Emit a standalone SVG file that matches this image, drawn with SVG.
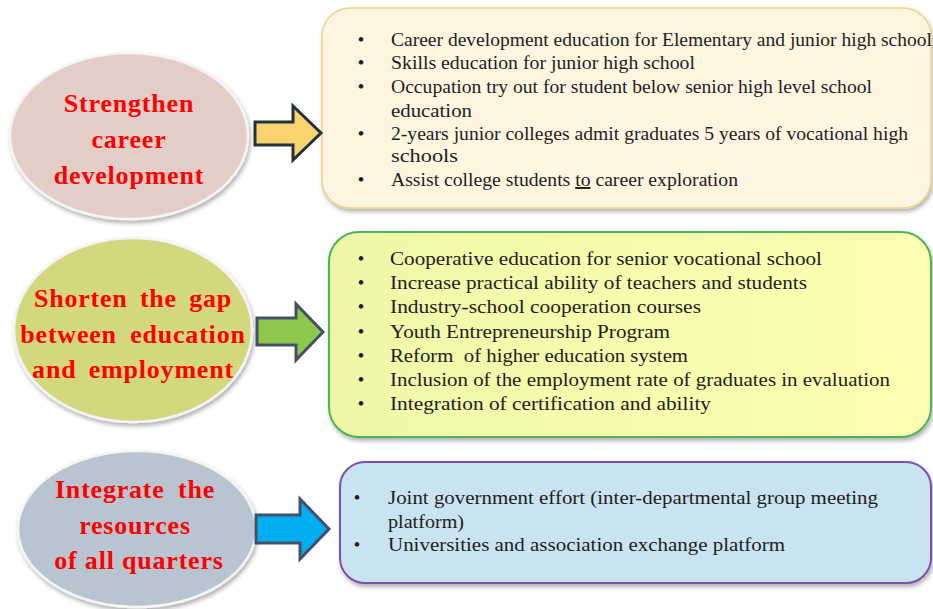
<svg xmlns="http://www.w3.org/2000/svg" width="933" height="609" viewBox="0 0 933 609">
<defs>
<style>
.ell{stroke:#f4f4f4;stroke-width:2.5;filter:url(#sh)}
.etxt{font-family:"Liberation Serif","Times New Roman",serif;font-weight:bold;font-size:26px;fill:#ff0000;text-anchor:middle;letter-spacing:0.8px}
.arrow{stroke-width:3;stroke-linejoin:miter}
.box{filter:url(#sh)}
.btxt{font-family:"Liberation Serif","Times New Roman",serif;font-size:19.5px;fill:#1e1e1e}
.bul{font-family:"Liberation Serif","Times New Roman",serif;font-size:17px;font-weight:bold;fill:#1e1e1e}
</style>
<filter id="sh" x="-10%" y="-10%" width="125%" height="130%">
<feDropShadow dx="1.5" dy="3" stdDeviation="2" flood-color="#000" flood-opacity="0.3"/>
</filter>
<linearGradient id="g2" x1="0" y1="0" x2="1" y2="0">
<stop offset="0" stop-color="#EEF7A8"/>
<stop offset="1" stop-color="#FFFFB2"/>
</linearGradient>
</defs>
<rect width="933" height="609" fill="#ffffff"/>

<g id="node-strengthen">
<ellipse class="ell" cx="129" cy="136" rx="119" ry="83" fill="#E3CEC7"/>
<text class="etxt" x="129" y="112">Strengthen</text>
<text class="etxt" x="129" y="148">career</text>
<text class="etxt" x="129" y="184">development</text>
</g>

<g id="node-shorten">
<ellipse class="ell" cx="133" cy="330" rx="119" ry="92" fill="#D3D77D"/>
<text class="etxt" x="133" y="307" word-spacing="5">Shorten the gap</text>
<text class="etxt" x="133" y="343" word-spacing="6">between education</text>
<text class="etxt" x="133" y="378" word-spacing="5">and employment</text>
</g>

<g id="node-integrate">
<ellipse class="ell" cx="137" cy="529" rx="119" ry="78" fill="#B8C4CF"/>
<text class="etxt" x="135" y="498" word-spacing="6">Integrate the</text>
<text class="etxt" x="135" y="534">resources</text>
<text class="etxt" x="139" y="569">of all quarters</text>
</g>

<g id="box-career">
<rect class="box" x="322" y="8" width="609" height="200" rx="28" fill="#FEF5E1" stroke="#F1D385" stroke-width="1.5"/>
<g class="bul"><text x="358" y="45">•</text><text x="358" y="68">•</text><text x="358" y="92">•</text><text x="358" y="139">•</text><text x="358" y="185">•</text></g>
<text class="btxt" x="391" y="46" textLength="541" lengthAdjust="spacingAndGlyphs">Career development education for Elementary and junior high school</text>
<text class="btxt" x="391" y="69" textLength="304" lengthAdjust="spacingAndGlyphs">Skills education for junior high school</text>
<text class="btxt" x="391" y="93" textLength="481" lengthAdjust="spacingAndGlyphs">Occupation try out for student below senior high level school</text>
<text class="btxt" x="391" y="117" textLength="81" lengthAdjust="spacingAndGlyphs">education</text>
<text class="btxt" x="391" y="140" textLength="517" lengthAdjust="spacingAndGlyphs">2-years junior colleges admit graduates 5 years of vocational high</text>
<text class="btxt" x="391" y="162" textLength="67" lengthAdjust="spacingAndGlyphs">schools</text>
<text class="btxt" x="391" y="186" textLength="347" lengthAdjust="spacingAndGlyphs">Assist college students <tspan text-decoration="underline">to</tspan> career exploration</text>
</g>

<g id="box-gap">
<rect class="box" x="329" y="232" width="602" height="205" rx="30" fill="url(#g2)" stroke="#4DB456" stroke-width="2"/>
<g class="bul"><text x="358" y="264">•</text><text x="358" y="288">•</text><text x="358" y="312">•</text><text x="358" y="337">•</text><text x="358" y="361">•</text><text x="358" y="385">•</text><text x="358" y="409">•</text></g>
<text class="btxt" x="390" y="265" font-size="20" textLength="432" lengthAdjust="spacingAndGlyphs">Cooperative education for senior vocational school</text>
<text class="btxt" x="390" y="289" font-size="20" textLength="417" lengthAdjust="spacingAndGlyphs">Increase practical ability of teachers and students</text>
<text class="btxt" x="390" y="313" font-size="20" textLength="311" lengthAdjust="spacingAndGlyphs">Industry-school cooperation courses</text>
<text class="btxt" x="390" y="338" font-size="20" textLength="280" lengthAdjust="spacingAndGlyphs">Youth Entrepreneurship Program</text>
<text class="btxt" x="390" y="362" font-size="20" textLength="298" lengthAdjust="spacingAndGlyphs" style="white-space:pre">Reform  of higher education system</text>
<text class="btxt" x="390" y="386" font-size="20" textLength="500" lengthAdjust="spacingAndGlyphs">Inclusion of the employment rate of graduates in evaluation</text>
<text class="btxt" x="390" y="410" font-size="20" textLength="321" lengthAdjust="spacingAndGlyphs">Integration of certification and ability</text>
</g>

<g id="box-integrate">
<rect class="box" x="340" y="462" width="591" height="121" rx="25" fill="#C9E4F0" stroke="#8050A8" stroke-width="2"/>
<g class="bul"><text x="354" y="503">•</text><text x="354" y="550">•</text></g>
<text class="btxt" x="388" y="504" textLength="490" lengthAdjust="spacingAndGlyphs">Joint government effort (inter-departmental group meeting</text>
<text class="btxt" x="388" y="528" textLength="76" lengthAdjust="spacingAndGlyphs">platform)</text>
<text class="btxt" x="388" y="551" textLength="397" lengthAdjust="spacingAndGlyphs">Universities and association exchange platform</text>
</g>

<g id="connectors">
<polygon class="arrow" points="255,122 293,122 293,106 321,133 293,160 293,145 255,145" fill="#F8D36F" stroke="#25323C"/>
<polygon class="arrow" points="257,318 296,318 296,304 323,332 296,360 296,345 257,345" fill="#8DC84C" stroke="#44506A"/>
<polygon class="arrow" points="256,515 300,515 300,499 329,529 300,559 300,543 256,543" fill="#00AEEF" stroke="#44506A"/>
</g>
</svg>
